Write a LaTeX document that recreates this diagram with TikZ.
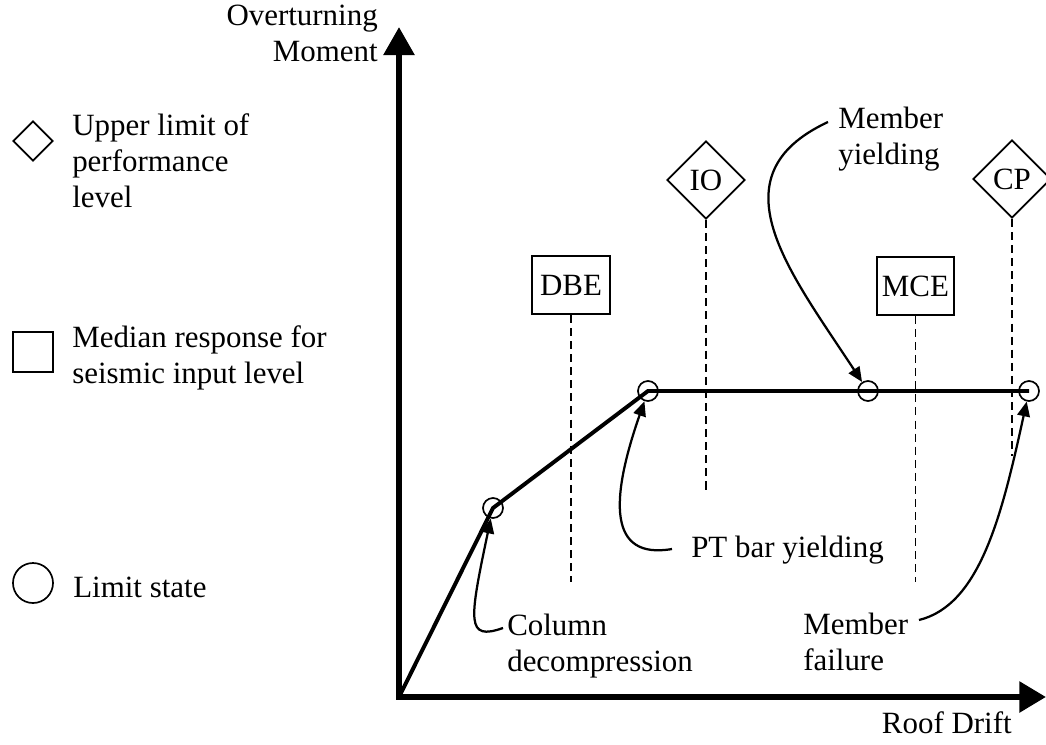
\documentclass[tikz,border=0pt]{standalone}
\usepackage{fontspec}
\setmainfont{Liberation Serif}
\usetikzlibrary{arrows.meta,shapes.geometric}

\begin{document}
\begin{tikzpicture}[x=0.025cm,y=-0.025cm,
    every node/.style={font=\fontsize{22}{25.6}\selectfont},
    note/.style={anchor=base west,align=left,inner sep=0pt},
    limit/.style={draw,circle,line width=1.2pt,minimum size=0.5cm,inner sep=0pt},
    perf/.style={draw,diamond,line width=1.3pt,minimum size=1.95cm,inner sep=0pt},
    median/.style={draw,rectangle,line width=1.3pt,minimum width=1.93cm,minimum height=1.45cm,inner sep=0pt},
    axis/.style={line width=4.3pt,{Triangle[length=20pt,width=21.3pt]}-{Triangle[length=19pt,width=21.3pt]}},
    pushover/.style={line width=2.8pt},
    pointer/.style={line width=1.6pt,-{Triangle[length=10.5pt,width=9pt]}},
    guide/.style={line width=1.1pt,dash pattern=on 5.7pt off 3.6pt}]
  \useasboundingbox (0,0) rectangle (1046,744);

  \node[perf,minimum size=1cm]                       (keyperf)  at (33,141) {};
  \node[note]                                        (keyperft) at (72,207) {Upper limit of\\performance\\level};
  \node[median,minimum width=1cm,minimum height=1cm] (keymed)   at (33,352) {};
  \node[note]                                        (keymedt)  at (72,383) {Median response for\\seismic input level};
  \node[limit,minimum size=1cm]                      (keylim)   at (33,583) {};
  \node[note]                                        (keylimt)  at (73,597) {Limit state};

  \coordinate (o)    at (399,697);
  \coordinate (ytip) at (399,27);
  \coordinate (xtip) at (1046,697);
  \draw[axis] (ytip) -- (o) -- (xtip);
  \node[note,anchor=base east,align=right] (ylab) at (378,61)  {Overturning\\Moment};
  \node[note,anchor=base east]             (xlab) at (1012,733) {Roof Drift};

  \node[median] (dbe) at (571,285)   {DBE};
  \node[median] (mce) at (915.5,286) {MCE};
  \node[perf]   (io)  at (706,180)   {IO};
  \node[perf]   (cp)  at (1012,179)  {CP};
  \coordinate (dbeend) at (571,582);
  \coordinate (mceend) at (915.5,582);
  \coordinate (ioend)  at (706,490);
  \coordinate (cpend)  at (1012,456);
  \draw[guide] (dbe) -- (dbeend);
  \draw[guide] (mce) -- (mceend);
  \draw[guide] (io)  -- (ioend);
  \draw[guide] (cp)  -- (cpend);

  \node[limit] (decomp)   at (493,508)  {};
  \node[limit] (ptyield)  at (648,391)  {};
  \node[limit] (memyield) at (868,391)  {};
  \node[limit] (memfail)  at (1029,391) {};
  \draw[pushover] (o) -- (decomp.center) -- (ptyield.center) -- (memfail.center);

  \node[note]                  (yieldt) at (838,164) {Member\\yielding};
  \node[note,anchor=base east] (ptt)    at (884,557) {PT bar yielding};
  \node[note]                  (colt)   at (507,671) {Column\\decompression};
  \node[note]                  (failt)  at (803,670) {Member\\failure};
  \coordinate (yieldst) at (828,122);
  \coordinate (ptst)    at (672,549);
  \coordinate (colst)   at (503,628);
  \coordinate (failst)  at (919,620);

  \draw[pointer] (yieldst) .. controls (712,176) and (790,272) .. (memyield);
  \draw[pointer] (ptst) .. controls (608,560) and (610,500) .. (ptyield);
  \draw[pointer] (colst) .. controls (466,641) and (469,622) .. (decomp);
  \draw[pointer] (failst) .. controls (980,605) and (1002,515) .. (memfail);
\end{tikzpicture}
\end{document}
